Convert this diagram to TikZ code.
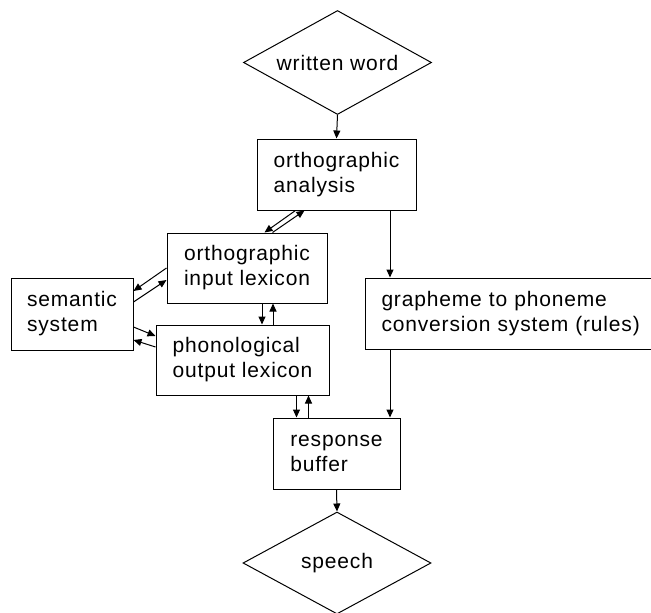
\documentclass[tikz,border=0pt]{standalone}
\usepackage{fontspec}
\setmainfont{Liberation Sans}[LetterSpace=4]
\usepackage{tikz}
\usetikzlibrary{arrows.meta,shapes.geometric}
\tikzset{
  stage/.style={draw,line width=1pt,align=left,inner sep=0pt,font=\fontsize{21}{25}\selectfont},
  term/.style={draw,line width=1pt,shape=diamond,aspect=1.8,inner sep=0pt,font=\fontsize{21}{25}\selectfont},
  link/.style={line width=1pt,-{Triangle[length=8pt,width=7pt]}}
}
\begin{document}
\begin{tikzpicture}[x=1pt,y=-1pt]
\useasboundingbox (0,0) rectangle (651,613);
\clip (0,0) rectangle (651,613);
% inputs and outputs
\node[term,minimum width=188pt,minimum height=104pt] (wword) at (337.5,62.5) {written word};
\node[term,minimum width=188pt,minimum height=102pt] (speech) at (337,563) {speech};
% boxes
\node[stage,minimum width=159pt,minimum height=71pt] (ana) at (336.5,174.5) {orthographic\\analysis};
\node[stage,minimum width=160pt,minimum height=70pt] (inlex) at (247,268) {orthographic\\input lexicon};
\node[stage,minimum width=173pt,minimum height=70pt] (outlex) at (242.5,360) {phonological\\output lexicon};
\node[stage,minimum width=122pt,minimum height=72pt] (sem) at (72,314) {semantic\\system};
\node[stage,minimum height=71pt,anchor=west,text width=300pt,inner xsep=16pt] (gpc) at (365,313.5) {grapheme to phoneme\\conversion system (rules)};
\node[stage,minimum width=127pt,minimum height=71pt] (resp) at (336.5,453.5) {response\\buffer};
% lexical route
\draw[link] (wword.south)--(ana.north);
\draw[link] ([xshift=39pt]ana.south west)--([xshift=98pt]inlex.north west);
\draw[link] ([xshift=106pt]inlex.north west)--([xshift=48pt]ana.south west);
\draw[link] (inlex.west)--([yshift=23pt]sem.east);
\draw[link] ([yshift=12pt]sem.east)--([yshift=-12pt]inlex.west);
\draw[link] ([yshift=-13pt]sem.east)--([yshift=24pt]outlex.west);
\draw[link] ([yshift=13pt]outlex.west)--([yshift=-26pt]sem.east);
\draw[link] ([xshift=15pt]inlex.south)--([xshift=15pt]inlex.south |- outlex.north);
\draw[link] ([xshift=26pt]inlex.south |- outlex.north)--([xshift=26pt]inlex.south);
\draw[link] ([xshift=-40pt]resp.north |- outlex.south)--([xshift=-40pt]resp.north);
\draw[link] ([xshift=-28pt]resp.north)--([xshift=-28pt]resp.north |- outlex.south);
% sublexical route
\draw[link] ([xshift=25pt]gpc.north west |- ana.south)--([xshift=25pt]gpc.north west);
\draw[link] ([xshift=25pt]gpc.south west)--([xshift=25pt]gpc.south west |- resp.north);
\draw[link] (resp.south)--(speech.north);
\end{tikzpicture}
\end{document}
